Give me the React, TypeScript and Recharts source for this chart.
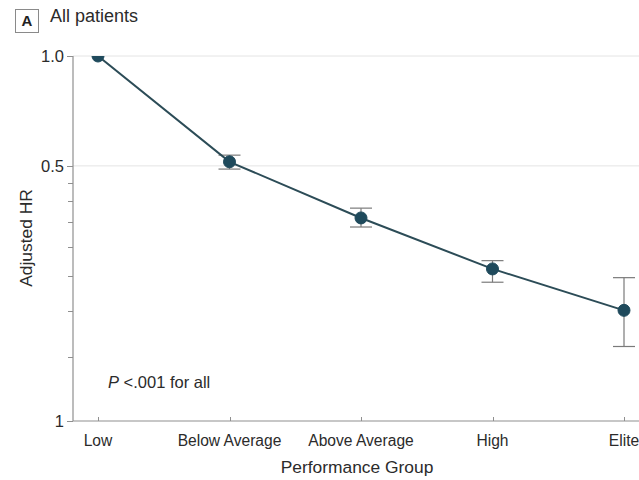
import { CartesianGrid, ErrorBar, Line, LineChart, XAxis, YAxis } from "recharts";

const groups = ["Low", "Below Average", "Above Average", "High", "Elite"];
const hazardRatio = [1.0, 0.513, 0.36, 0.261, 0.201];
const ciLow = [null, 0.49, 0.34, 0.24, 0.16];
const ciHigh = [null, 0.535, 0.383, 0.275, 0.247];

const majorTicks = [0.1, 0.5, 1];
const minorTicks = [0.15, 0.2, 0.25, 0.3, 0.35, 0.4, 0.45];
const tickLabels: Record<number, string> = { 1: "1.0", 0.5: "0.5", 0.1: "1" };

const font = "'Liberation Sans', Arial, sans-serif";
const ink = "#2b2b2b";
const axisGray = "#8f8f8f";

const chartData = groups.map((group, i) => {
  const lo = ciLow[i];
  const hi = ciHigh[i];
  return {
    group,
    hr: hazardRatio[i],
    ci: lo == null || hi == null ? null : [hazardRatio[i] - lo, hi - hazardRatio[i]],
  };
});

function YTick(props: any) {
  const { y, payload } = props;
  const value = payload.value as number;
  const isMajor = majorTicks.includes(value);
  const yy = Math.round(y) + 0.5;
  return (
    <g>
      <line x1={isMajor ? 67 : 68} x2={73} y1={yy} y2={yy} stroke={axisGray} strokeWidth={1} />
      {isMajor && (
        <text x={64} y={y + 6} textAnchor="end" fontSize={16.5} fill={ink} fontFamily={font}>
          {tickLabels[value]}
        </text>
      )}
    </g>
  );
}

function XTick(props: any) {
  const { x, payload } = props;
  const xx = Math.round(x) + 0.5;
  return (
    <g>
      <line x1={xx} x2={xx} y1={417} y2={421} stroke={axisGray} strokeWidth={1} />
      <text x={x} y={446} textAnchor="middle" fontSize={15.6} fill={ink} fontFamily={font}>
        {payload.value}
      </text>
    </g>
  );
}

export default function App() {
  return (
    <div style={{ position: "absolute", left: 0, top: 0, width: 639, height: 480, background: "#fff", overflow: "hidden" }}>
      <div
        style={{
          position: "absolute",
          left: 15,
          top: 9,
          width: 22,
          height: 22,
          border: "1px solid #8a8a8a",
          fontFamily: font,
          fontWeight: 700,
          fontSize: 15,
          lineHeight: "22px",
          textAlign: "center",
          color: "#222",
        }}
      >
        A
      </div>
      <div style={{ position: "absolute", left: 50, top: 6, fontFamily: font, fontSize: 18, color: ink }}>
        All patients
      </div>
      <div style={{ position: "absolute", left: 108, top: 373, fontFamily: font, fontSize: 16.5, color: ink }}>
        <i>P</i> &lt;.001 for all
      </div>
      <LineChart width={639} height={480} data={chartData} margin={{ top: 56, right: 0, bottom: 0, left: 0 }}>
        <CartesianGrid horizontal vertical={false} horizontalValues={[1, 0.5]} stroke="#e4e4e4" />
        <XAxis
          dataKey="group"
          type="category"
          padding={{ left: 25, right: 15 }}
          height={59}
          axisLine={{ stroke: axisGray, strokeWidth: 1.2 }}
          tickLine={false}
          interval={0}
          tick={<XTick />}
          label={{
            content: () => (
              <text x={357} y={473} textAnchor="middle" fontSize={17.4} fill={ink} fontFamily={font}>
                Performance Group
              </text>
            ),
          }}
        />
        <YAxis
          scale="log"
          domain={[0.1, 1]}
          ticks={[...majorTicks, ...minorTicks].sort((a, b) => a - b)}
          interval={0}
          minTickGap={0}
          width={73}
          axisLine={{ stroke: axisGray, strokeWidth: 1.2 }}
          tickLine={false}
          tick={<YTick />}
          allowDataOverflow
          label={{
            content: () => (
              <text
                x={32}
                y={238}
                transform="rotate(-90 32 238)"
                textAnchor="middle"
                fontSize={17.4}
                fill={ink}
                fontFamily={font}
              >
                Adjusted HR
              </text>
            ),
          }}
        />
        <Line
          dataKey="hr"
          stroke="#2c4c57"
          strokeWidth={2}
          dot={{ r: 6, fill: "#1f4a5c", stroke: "#1f4a5c", strokeWidth: 1 }}
          isAnimationActive={false}
        >
          <ErrorBar dataKey="ci" width={11} stroke="#7a7a7a" strokeWidth={1.2} direction="y" />
        </Line>
      </LineChart>
    </div>
  );
}
